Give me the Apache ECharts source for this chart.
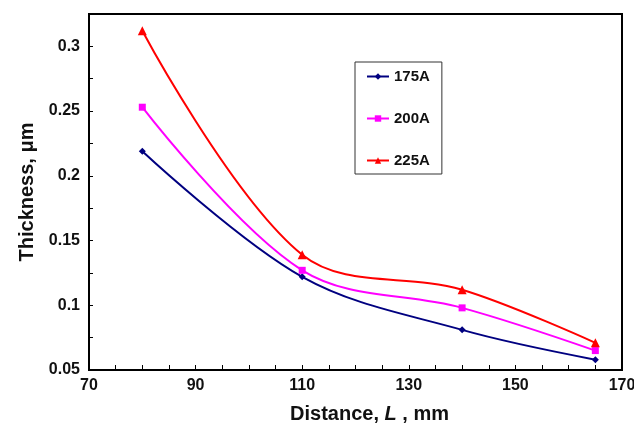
<!DOCTYPE html>
<html>
<head>
<meta charset="utf-8">
<script src="https://cdn.jsdelivr.net/npm/echarts@6/dist/echarts.min.js"></script>
<style>
html,body{margin:0;padding:0;background:#fff;}
#chart{width:634px;height:423px;}
</style>
</head>
<body>
<div id="chart"></div>
<script>
const distances = [80, 110, 140, 165];
const seriesNames = ['175A', '200A', '225A'];
const thick175 = [0.219, 0.122, 0.081, 0.058];
const thick200 = [0.253, 0.127, 0.098, 0.065];
const thick225 = [0.312, 0.139, 0.112, 0.071];
const xTickLabels = [70, 90, 110, 130, 150, 170];
const yTickLabels = [0.05, 0.1, 0.15, 0.2, 0.25, 0.3];

const font = '"Liberation Sans", Arial, sans-serif';
const chart = echarts.init(document.getElementById('chart'));

function pairs(vals){ return distances.map((d,i)=>[d, vals[i]]); }

const styles = [
  {color:'#000080', symbol:'diamond', size:7},
  {color:'#FF00FF', symbol:'rect', size:7},
  {color:'#FF0000', symbol:'triangle', size:9}
];
const dataSets = [thick175, thick200, thick225];

chart.setOption({
  backgroundColor:'#fff',
  animation:false,
  grid:{left:89, right:12, top:14, bottom:53, containLabel:false, outerBoundsMode:'none',
        show:true, borderColor:'#000', borderWidth:2, backgroundColor:'transparent'},
  legend:{
    orient:'vertical', left:355, top:62,
    data:seriesNames,
    itemWidth:22, itemHeight:8, itemGap:27,
    padding:[7,12,6,11],
    borderColor:'#333', borderWidth:1,
    textStyle:{fontFamily:font, fontWeight:'bold', fontSize:15, color:'#111'}
  },
  xAxis:{
    type:'value', min:70, max:170, interval:5,
    name:'{n|Distance, }{i|L}{n| , mm}', nameLocation:'middle', nameGap:34,
    nameTextStyle:{padding:[0,0,0,28], rich:{
      n:{fontFamily:font, fontWeight:'bold', fontSize:20, color:'#111'},
      i:{fontFamily:font, fontWeight:'bold', fontStyle:'italic', fontSize:20, color:'#111'}
    }},
    axisLine:{show:true, onZero:false, lineStyle:{color:'#000', width:2}},
    axisTick:{show:true, inside:true, length:5, lineStyle:{color:'#000', width:1}},
    splitLine:{show:false},
    axisLabel:{
      margin:8, fontFamily:font, fontWeight:'bold', fontSize:16, color:'#111',
      formatter:function(v){ return xTickLabels.indexOf(Math.round(v))>=0 && Math.abs(v-Math.round(v))<1e-6 ? String(Math.round(v)) : ''; }
    }
  },
  yAxis:{
    type:'value', min:0.05, max:0.325, interval:0.025,
    name:'Thickness, μm', nameLocation:'middle', nameGap:50,
    nameTextStyle:{fontFamily:font, fontWeight:'bold', fontSize:20, color:'#111'},
    axisLine:{show:true, onZero:false, lineStyle:{color:'#000', width:2}},
    axisTick:{show:true, inside:true, length:4, lineStyle:{color:'#000', width:1}},
    splitLine:{show:false},
    axisLabel:{
      margin:9, fontFamily:font, fontWeight:'bold', fontSize:16, color:'#111',
      formatter:function(v){
        for (const t of yTickLabels){ if (Math.abs(v-t)<1e-6) return String(t); }
        return '';
      }
    }
  },
  series: seriesNames.map((n,k)=>({
    name:n, type:'line', smooth:0.35,
    data:pairs(dataSets[k]),
    symbol:styles[k].symbol, symbolSize:styles[k].size,
    itemStyle:{color:styles[k].color},
    lineStyle:{color:styles[k].color, width:2}
  }))
});
</script>
</body>
</html>
